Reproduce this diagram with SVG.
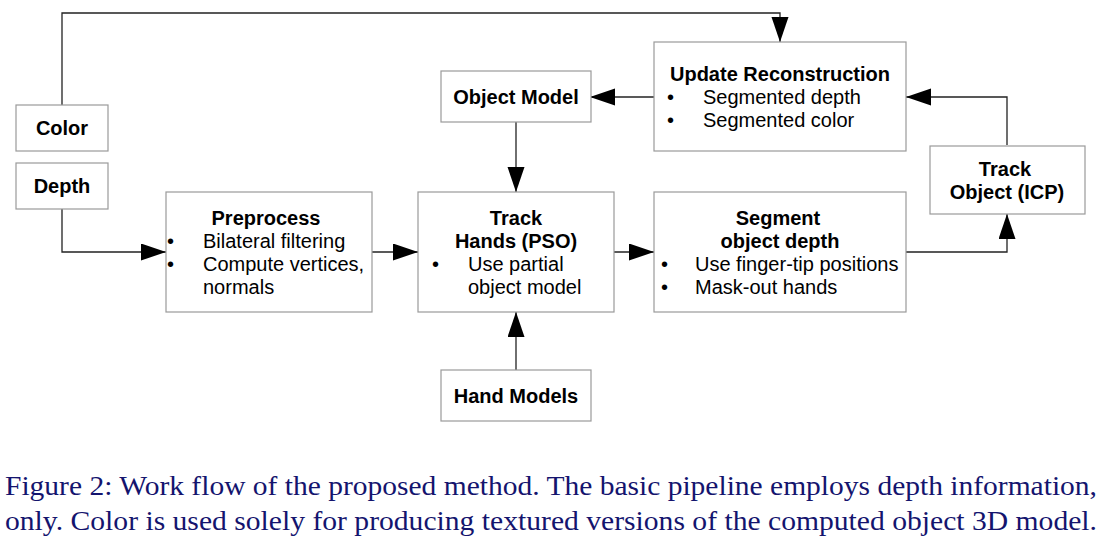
<svg xmlns="http://www.w3.org/2000/svg" width="1111" height="554" viewBox="0 0 1111 554">
<style>
.box{fill:#fff;stroke:#9a9a9a;stroke-width:1.2}
.t{font-family:"Liberation Sans",Arial,sans-serif;font-size:20px;fill:#000}
.b{font-weight:bold}
.c{text-anchor:middle}
.cap{font-family:"Liberation Serif","Times New Roman",serif;font-size:27px;fill:#14146e}
.ln{fill:none;stroke:#222;stroke-width:1.3}
</style>
<defs>
<marker id="ah" markerUnits="userSpaceOnUse" markerWidth="26" markerHeight="18" refX="25" refY="8.5" orient="auto">
<path d="M0,0 L25,8.5 L0,17 Z" fill="#000"/>
</marker>
</defs>
<rect width="1111" height="554" fill="#fff"/>
<g id="connectors">
<path class="ln" d="M62,105 V13 H780 V42" marker-end="url(#ah)"/>
<path class="ln" d="M62,209 V252 H166" marker-end="url(#ah)"/>
<path class="ln" d="M372,252 H418" marker-end="url(#ah)"/>
<path class="ln" d="M614,252 H654" marker-end="url(#ah)"/>
<path class="ln" d="M516,122 V192" marker-end="url(#ah)"/>
<path class="ln" d="M516,370 V312" marker-end="url(#ah)"/>
<path class="ln" d="M654,97 H590" marker-end="url(#ah)"/>
<path class="ln" d="M906,252 H1007 V214" marker-end="url(#ah)"/>
<path class="ln" d="M1007,145 V97 H906" marker-end="url(#ah)"/>
</g>
<g id="color">
<rect class="box" x="16" y="105" width="92" height="46"/>
<text class="t b c" x="62" y="135">Color</text>
</g>
<g id="depth">
<rect class="box" x="16" y="163" width="92" height="46"/>
<text class="t b c" x="62" y="193">Depth</text>
</g>
<g id="preprocess">
<rect class="box" x="166" y="192" width="206" height="120"/>
<text class="t b c" x="266" y="225">Preprocess</text>
<text class="t" x="167" y="248">•</text>
<text class="t" x="203" y="248">Bilateral filtering</text>
<text class="t" x="167" y="271">•</text>
<text class="t" x="203" y="271">Compute vertices,</text>
<text class="t" x="203" y="294">normals</text>
</g>
<g id="track-hands">
<rect class="box" x="418" y="192" width="196" height="120"/>
<text class="t b c" x="516" y="225">Track</text>
<text class="t b c" x="516" y="248">Hands (PSO)</text>
<text class="t" x="432" y="271">•</text>
<text class="t" x="468" y="271">Use partial</text>
<text class="t" x="468" y="294">object model</text>
</g>
<g id="object-model">
<rect class="box" x="441" y="71" width="150" height="51"/>
<text class="t b c" x="516" y="104">Object Model</text>
</g>
<g id="hand-models">
<rect class="box" x="441" y="370" width="150" height="51"/>
<text class="t b c" x="516" y="403">Hand Models</text>
</g>
<g id="update-reconstruction">
<rect class="box" x="654" y="42" width="252" height="109"/>
<text class="t b c" x="780" y="81">Update Reconstruction</text>
<text class="t" x="667" y="104">•</text>
<text class="t" x="703" y="104">Segmented depth</text>
<text class="t" x="667" y="127">•</text>
<text class="t" x="703" y="127">Segmented color</text>
</g>
<g id="segment">
<rect class="box" x="654" y="192" width="252" height="120"/>
<text class="t b c" x="778" y="225">Segment</text>
<text class="t b c" x="780" y="248">object depth</text>
<text class="t" x="661" y="271">•</text>
<text class="t" x="695" y="271">Use finger-tip positions</text>
<text class="t" x="661" y="294">•</text>
<text class="t" x="695" y="294">Mask-out hands</text>
</g>
<g id="track-object">
<rect class="box" x="930" y="146" width="155" height="68"/>
<text class="t b c" x="1005" y="176">Track</text>
<text class="t b c" x="1007" y="199">Object (ICP)</text>
</g>
<g id="caption">
<text class="cap" x="5" y="495" textLength="1092" lengthAdjust="spacingAndGlyphs">Figure 2: Work flow of the proposed method. The basic pipeline employs depth information,</text>
<text class="cap" x="5" y="530" textLength="1092" lengthAdjust="spacingAndGlyphs">only. Color is used solely for producing textured versions of the computed object 3D model.</text>
</g>
</svg>
